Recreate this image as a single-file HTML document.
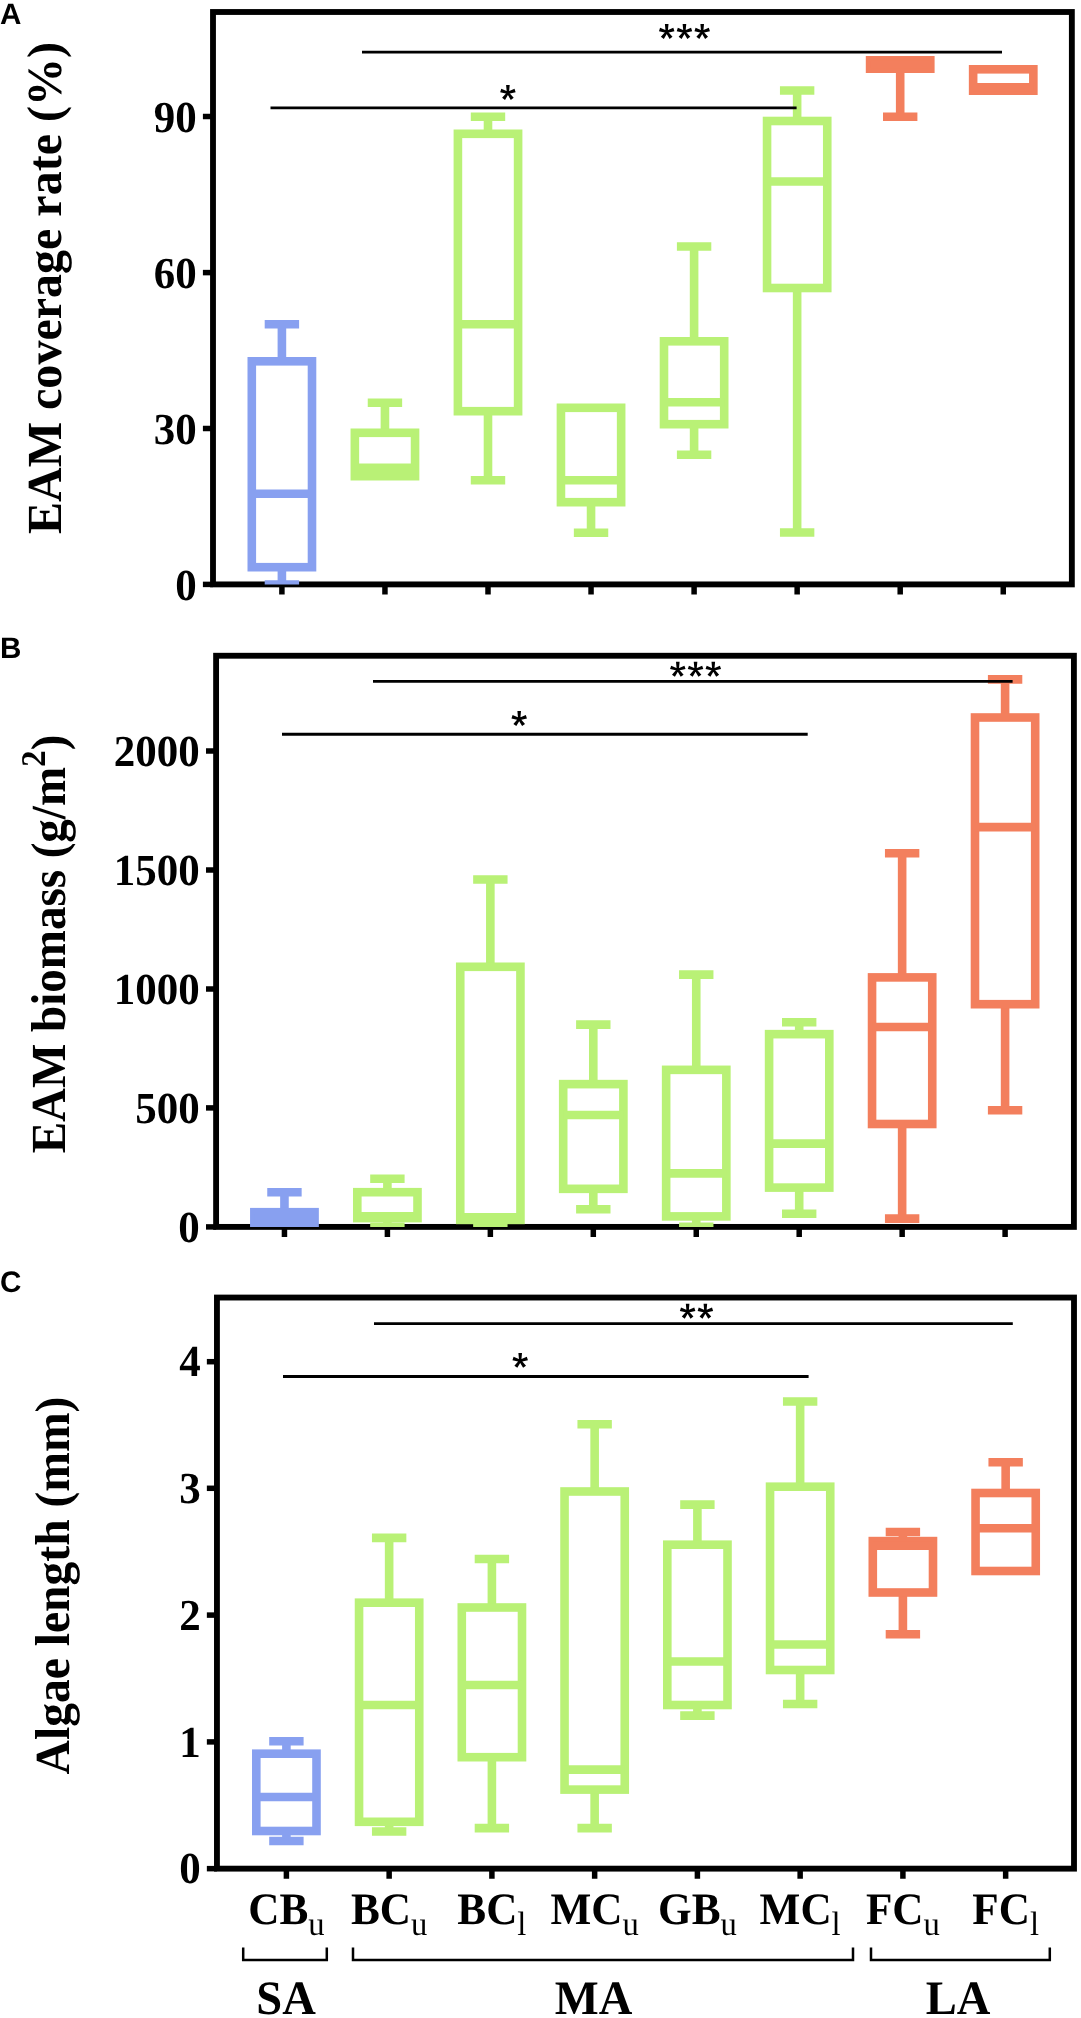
<!DOCTYPE html>
<html><head><meta charset="utf-8"><title>Figure</title>
<style>html,body{margin:0;padding:0;background:#fff}svg{display:block;will-change:transform}text{fill:#000;text-rendering:geometricPrecision}</style>
</head><body>
<svg width="1081" height="2018" viewBox="0 0 1081 2018">
<rect width="1081" height="2018" fill="#fff"/>
<!-- panel A -->
<clipPath id="clipA"><rect x="213" y="12" width="858.8499999999999" height="572.4"/></clipPath>
<rect x="213" y="12" width="858.8499999999999" height="572.4" fill="none" stroke="#000" stroke-width="5.85"/>
<path d="M202.9 116.5H213" stroke="#000" stroke-width="5.5"/>
<text transform="translate(196.70 132.30) scale(0.97 1)" text-anchor="end" font-family="Liberation Serif, serif" font-weight="bold" font-size="44.3">90</text>
<path d="M202.9 272.6H213" stroke="#000" stroke-width="5.5"/>
<text transform="translate(196.70 288.40) scale(0.97 1)" text-anchor="end" font-family="Liberation Serif, serif" font-weight="bold" font-size="44.3">60</text>
<path d="M202.9 428.5H213" stroke="#000" stroke-width="5.5"/>
<text transform="translate(196.70 444.30) scale(0.97 1)" text-anchor="end" font-family="Liberation Serif, serif" font-weight="bold" font-size="44.3">30</text>
<path d="M202.9 584.4H213" stroke="#000" stroke-width="5.5"/>
<text transform="translate(196.70 600.20) scale(0.97 1)" text-anchor="end" font-family="Liberation Serif, serif" font-weight="bold" font-size="44.3">0</text>
<path d="M281.90 584.4V594.5" stroke="#000" stroke-width="5.5"/>
<path d="M384.95 584.4V594.5" stroke="#000" stroke-width="5.5"/>
<path d="M488.00 584.4V594.5" stroke="#000" stroke-width="5.5"/>
<path d="M591.05 584.4V594.5" stroke="#000" stroke-width="5.5"/>
<path d="M694.10 584.4V594.5" stroke="#000" stroke-width="5.5"/>
<path d="M797.15 584.4V594.5" stroke="#000" stroke-width="5.5"/>
<path d="M900.20 584.4V594.5" stroke="#000" stroke-width="5.5"/>
<path d="M1003.25 584.4V594.5" stroke="#000" stroke-width="5.5"/>
<g stroke="#88A0F0" stroke-width="8.6" fill="none" clip-path="url(#clipA)">
<path d="M264.70 324.30H299.10M281.90 324.30V361.30"/>
<path d="M264.70 584.50H299.10M281.90 584.50V567.20"/>
<rect x="251.80" y="361.30" width="60.20" height="205.90"/>
<path d="M251.80 493.75H312.00"/>
</g>
<g stroke="#B9F176" stroke-width="8.6" fill="none" clip-path="url(#clipA)">
<path d="M367.75 402.75H402.15M384.95 402.75V432.80"/>
<rect x="354.85" y="432.80" width="60.20" height="43.40"/>
<path d="M354.85 467.80H415.05"/>
</g>
<g stroke="#B9F176" stroke-width="8.6" fill="none" clip-path="url(#clipA)">
<path d="M470.80 116.75H505.20M488.00 116.75V133.80"/>
<path d="M470.80 480.25H505.20M488.00 480.25V411.20"/>
<rect x="457.90" y="133.80" width="60.20" height="277.40"/>
<path d="M457.90 324.25H518.10"/>
</g>
<g stroke="#B9F176" stroke-width="8.6" fill="none" clip-path="url(#clipA)">
<path d="M573.85 532.75H608.25M591.05 532.75V502.20"/>
<rect x="560.95" y="407.80" width="60.20" height="94.40"/>
<path d="M560.95 480.25H621.15"/>
</g>
<g stroke="#B9F176" stroke-width="8.6" fill="none" clip-path="url(#clipA)">
<path d="M676.90 246.50H711.30M694.10 246.50V341.30"/>
<path d="M676.90 454.75H711.30M694.10 454.75V424.20"/>
<rect x="664.00" y="341.30" width="60.20" height="82.90"/>
<path d="M664.00 402.25H724.20"/>
</g>
<g stroke="#B9F176" stroke-width="8.6" fill="none" clip-path="url(#clipA)">
<path d="M779.95 90.50H814.35M797.15 90.50V121.00"/>
<path d="M779.95 532.50H814.35M797.15 532.50V288.00"/>
<rect x="767.05" y="121.00" width="60.20" height="167.00"/>
<path d="M767.05 181.50H827.25"/>
</g>
<g stroke="#F37F5D" stroke-width="8.6" fill="none" clip-path="url(#clipA)">
<path d="M883.00 116.75H917.40M900.20 116.75V68.70"/>
<rect x="870.10" y="60.30" width="60.20" height="8.40"/>
<path d="M870.10 64.50H930.30"/>
</g>
<g stroke="#F37F5D" stroke-width="8.6" fill="none" clip-path="url(#clipA)">
<rect x="973.15" y="69.30" width="60.20" height="21.40"/>
<path d="M973.15 87.20H1033.35"/>
</g>
<path d="M362 52.1H1002" stroke="#000" stroke-width="2.9"/>
<path d="M270.5 107.9H796.6" stroke="#000" stroke-width="2.9"/>
<path d="M667.85 31.30L668.50 24.00L664.90 24.00L665.55 31.30ZM667.63 32.81L674.44 31.28L673.32 27.86L666.92 30.62ZM666.12 33.06L669.59 38.94L672.51 36.83L667.98 31.71ZM665.42 31.71L660.89 36.83L663.81 38.94L667.28 33.06ZM666.48 30.62L660.08 27.86L658.96 31.28L665.77 32.81Z" fill="#000"/><circle cx="666.70" cy="31.90" r="1.7" fill="#000"/>
<path d="M685.60 31.30L686.25 24.00L682.65 24.00L683.30 31.30ZM685.38 32.81L692.19 31.28L691.07 27.86L684.67 30.62ZM683.87 33.06L687.34 38.94L690.26 36.83L685.73 31.71ZM683.17 31.71L678.64 36.83L681.56 38.94L685.03 33.06ZM684.23 30.62L677.83 27.86L676.71 31.28L683.52 32.81Z" fill="#000"/><circle cx="684.45" cy="31.90" r="1.7" fill="#000"/>
<path d="M703.35 31.30L704.00 24.00L700.40 24.00L701.05 31.30ZM703.13 32.81L709.94 31.28L708.82 27.86L702.42 30.62ZM701.62 33.06L705.09 38.94L708.01 36.83L703.48 31.71ZM700.92 31.71L696.39 36.83L699.31 38.94L702.78 33.06ZM701.98 30.62L695.58 27.86L694.46 31.28L701.27 32.81Z" fill="#000"/><circle cx="702.20" cy="31.90" r="1.7" fill="#000"/>
<path d="M509.05 92.30L509.70 85.00L506.10 85.00L506.75 92.30ZM508.83 93.81L515.64 92.28L514.52 88.86L508.12 91.62ZM507.32 94.06L510.79 99.94L513.71 97.83L509.18 92.71ZM506.62 92.71L502.09 97.83L505.01 99.94L508.48 94.06ZM507.68 91.62L501.28 88.86L500.16 92.28L506.97 93.81Z" fill="#000"/><circle cx="507.90" cy="92.90" r="1.7" fill="#000"/>
<text transform="translate(61 288) rotate(-90) scale(0.98 1)" text-anchor="middle" font-family="Liberation Serif, serif" font-weight="bold" font-size="49">EAM coverage rate (%)</text>
<text x="0" y="23.9" font-family="Liberation Sans, sans-serif" font-weight="bold" font-size="29.6">A</text>
<!-- panel B -->
<clipPath id="clipB"><rect x="216.1" y="655.75" width="857.8000000000001" height="571.1500000000001"/></clipPath>
<rect x="216.1" y="655.75" width="857.8000000000001" height="571.1500000000001" fill="none" stroke="#000" stroke-width="5.85"/>
<path d="M206.0 751H216.1" stroke="#000" stroke-width="5.5"/>
<text transform="translate(199.80 766.10) scale(0.97 1)" text-anchor="end" font-family="Liberation Serif, serif" font-weight="bold" font-size="44.3">2000</text>
<path d="M206.0 870H216.1" stroke="#000" stroke-width="5.5"/>
<text transform="translate(199.80 885.10) scale(0.97 1)" text-anchor="end" font-family="Liberation Serif, serif" font-weight="bold" font-size="44.3">1500</text>
<path d="M206.0 989H216.1" stroke="#000" stroke-width="5.5"/>
<text transform="translate(199.80 1004.10) scale(0.97 1)" text-anchor="end" font-family="Liberation Serif, serif" font-weight="bold" font-size="44.3">1000</text>
<path d="M206.0 1107.9H216.1" stroke="#000" stroke-width="5.5"/>
<text transform="translate(199.80 1123.00) scale(0.97 1)" text-anchor="end" font-family="Liberation Serif, serif" font-weight="bold" font-size="44.3">500</text>
<path d="M206.0 1226.9H216.1" stroke="#000" stroke-width="5.5"/>
<text transform="translate(199.80 1242.00) scale(0.97 1)" text-anchor="end" font-family="Liberation Serif, serif" font-weight="bold" font-size="44.3">0</text>
<path d="M284.45 1226.9V1237.0" stroke="#000" stroke-width="5.5"/>
<path d="M387.40 1226.9V1237.0" stroke="#000" stroke-width="5.5"/>
<path d="M490.35 1226.9V1237.0" stroke="#000" stroke-width="5.5"/>
<path d="M593.30 1226.9V1237.0" stroke="#000" stroke-width="5.5"/>
<path d="M696.25 1226.9V1237.0" stroke="#000" stroke-width="5.5"/>
<path d="M799.20 1226.9V1237.0" stroke="#000" stroke-width="5.5"/>
<path d="M902.15 1226.9V1237.0" stroke="#000" stroke-width="5.5"/>
<path d="M1005.10 1226.9V1237.0" stroke="#000" stroke-width="5.5"/>
<g stroke="#88A0F0" stroke-width="8.6" fill="none" clip-path="url(#clipB)">
<path d="M267.25 1192.20H301.65M284.45 1192.20V1212.20"/>
<rect x="254.35" y="1212.20" width="60.20" height="12.80"/>
<path d="M254.35 1219.00H314.55"/>
</g>
<g stroke="#B9F176" stroke-width="8.6" fill="none" clip-path="url(#clipB)">
<path d="M370.20 1178.70H404.60M387.40 1178.70V1192.20"/>
<path d="M370.20 1226.90H404.60M387.40 1226.90V1218.10"/>
<rect x="357.30" y="1192.20" width="60.20" height="25.90"/>
<path d="M357.30 1216.20H417.50"/>
</g>
<g stroke="#B9F176" stroke-width="8.6" fill="none" clip-path="url(#clipB)">
<path d="M473.15 879.49H507.55M490.35 879.49V966.80"/>
<path d="M473.15 1226.90H507.55M490.35 1226.90V1219.90"/>
<rect x="460.25" y="966.80" width="60.20" height="253.10"/>
<path d="M460.25 1217.30H520.45"/>
</g>
<g stroke="#B9F176" stroke-width="8.6" fill="none" clip-path="url(#clipB)">
<path d="M576.10 1024.64H610.50M593.30 1024.64V1084.13"/>
<path d="M576.10 1209.20H610.50M593.30 1209.20V1188.83"/>
<rect x="563.20" y="1084.13" width="60.20" height="104.70"/>
<path d="M563.20 1115.06H623.40"/>
</g>
<g stroke="#B9F176" stroke-width="8.6" fill="none" clip-path="url(#clipB)">
<path d="M679.05 974.67H713.45M696.25 974.67V1069.85"/>
<path d="M679.05 1226.90H713.45M696.25 1226.90V1216.40"/>
<rect x="666.15" y="1069.85" width="60.20" height="146.55"/>
<path d="M666.15 1173.36H726.35"/>
</g>
<g stroke="#B9F176" stroke-width="8.6" fill="none" clip-path="url(#clipB)">
<path d="M782.00 1022.26H816.40M799.20 1022.26V1034.16"/>
<path d="M782.00 1213.80H816.40M799.20 1213.80V1187.60"/>
<rect x="769.10" y="1034.16" width="60.20" height="153.44"/>
<path d="M769.10 1143.62H829.30"/>
</g>
<g stroke="#F37F5D" stroke-width="8.6" fill="none" clip-path="url(#clipB)">
<path d="M884.95 853.32H919.35M902.15 853.32V977.40"/>
<path d="M884.95 1218.60H919.35M902.15 1218.60V1124.00"/>
<rect x="872.05" y="977.40" width="60.20" height="146.60"/>
<path d="M872.05 1027.02H932.25"/>
</g>
<g stroke="#F37F5D" stroke-width="8.6" fill="none" clip-path="url(#clipB)">
<path d="M987.90 679.40H1022.30M1005.10 679.40V717.50"/>
<path d="M987.90 1110.30H1022.30M1005.10 1110.30V1004.20"/>
<rect x="975.00" y="717.50" width="60.20" height="286.70"/>
<path d="M975.00 827.14H1035.20"/>
</g>
<path d="M373 681.4H1012.6" stroke="#000" stroke-width="2.9"/>
<path d="M282 734.3H807.7" stroke="#000" stroke-width="2.9"/>
<path d="M678.95 669.10L679.60 661.80L676.00 661.80L676.65 669.10ZM678.73 670.61L685.54 669.08L684.42 665.66L678.02 668.42ZM677.22 670.86L680.69 676.74L683.61 674.63L679.08 669.51ZM676.52 669.51L671.99 674.63L674.91 676.74L678.38 670.86ZM677.58 668.42L671.18 665.66L670.06 669.08L676.87 670.61Z" fill="#000"/><circle cx="677.80" cy="669.70" r="1.7" fill="#000"/>
<path d="M696.70 669.10L697.35 661.80L693.75 661.80L694.40 669.10ZM696.48 670.61L703.29 669.08L702.17 665.66L695.77 668.42ZM694.97 670.86L698.44 676.74L701.36 674.63L696.83 669.51ZM694.27 669.51L689.74 674.63L692.66 676.74L696.13 670.86ZM695.33 668.42L688.93 665.66L687.81 669.08L694.62 670.61Z" fill="#000"/><circle cx="695.55" cy="669.70" r="1.7" fill="#000"/>
<path d="M714.45 669.10L715.10 661.80L711.50 661.80L712.15 669.10ZM714.23 670.61L721.04 669.08L719.92 665.66L713.52 668.42ZM712.72 670.86L716.19 676.74L719.11 674.63L714.58 669.51ZM712.02 669.51L707.49 674.63L710.41 676.74L713.88 670.86ZM713.08 668.42L706.68 665.66L705.56 669.08L712.37 670.61Z" fill="#000"/><circle cx="713.30" cy="669.70" r="1.7" fill="#000"/>
<path d="M520.35 718.40L521.00 711.10L517.40 711.10L518.05 718.40ZM520.13 719.91L526.94 718.38L525.82 714.96L519.42 717.72ZM518.62 720.16L522.09 726.04L525.01 723.93L520.48 718.81ZM517.92 718.81L513.39 723.93L516.31 726.04L519.78 720.16ZM518.98 717.72L512.58 714.96L511.46 718.38L518.27 719.91Z" fill="#000"/><circle cx="519.20" cy="719.00" r="1.7" fill="#000"/>
<text transform="translate(65 944) rotate(-90) scale(0.959 1)" text-anchor="middle" font-family="Liberation Serif, serif" font-weight="bold" font-size="49">EAM biomass (g/m<tspan dy="-19.8" font-size="34.6">2</tspan><tspan dy="19.8">)</tspan></text>
<text x="0" y="657.9" font-family="Liberation Sans, sans-serif" font-weight="bold" font-size="29.6">B</text>
<!-- panel C -->
<clipPath id="clipC"><rect x="216.95" y="1297.55" width="857.05" height="571.1000000000001"/></clipPath>
<rect x="216.95" y="1297.55" width="857.05" height="571.1000000000001" fill="none" stroke="#000" stroke-width="5.85"/>
<path d="M206.85 1361.7H216.95" stroke="#000" stroke-width="5.5"/>
<text transform="translate(200.65 1376.30) scale(0.97 1)" text-anchor="end" font-family="Liberation Serif, serif" font-weight="bold" font-size="44.3">4</text>
<path d="M206.85 1488.3H216.95" stroke="#000" stroke-width="5.5"/>
<text transform="translate(200.65 1502.90) scale(0.97 1)" text-anchor="end" font-family="Liberation Serif, serif" font-weight="bold" font-size="44.3">3</text>
<path d="M206.85 1615.1H216.95" stroke="#000" stroke-width="5.5"/>
<text transform="translate(200.65 1629.70) scale(0.97 1)" text-anchor="end" font-family="Liberation Serif, serif" font-weight="bold" font-size="44.3">2</text>
<path d="M206.85 1741.9H216.95" stroke="#000" stroke-width="5.5"/>
<text transform="translate(200.65 1756.50) scale(0.97 1)" text-anchor="end" font-family="Liberation Serif, serif" font-weight="bold" font-size="44.3">1</text>
<path d="M206.85 1868.65H216.95" stroke="#000" stroke-width="5.5"/>
<text transform="translate(200.65 1883.25) scale(0.97 1)" text-anchor="end" font-family="Liberation Serif, serif" font-weight="bold" font-size="44.3">0</text>
<path d="M286.40 1868.65V1878.75" stroke="#000" stroke-width="5.5"/>
<path d="M389.15 1868.65V1878.75" stroke="#000" stroke-width="5.5"/>
<path d="M491.90 1868.65V1878.75" stroke="#000" stroke-width="5.5"/>
<path d="M594.65 1868.65V1878.75" stroke="#000" stroke-width="5.5"/>
<path d="M697.40 1868.65V1878.75" stroke="#000" stroke-width="5.5"/>
<path d="M800.15 1868.65V1878.75" stroke="#000" stroke-width="5.5"/>
<path d="M902.90 1868.65V1878.75" stroke="#000" stroke-width="5.5"/>
<path d="M1005.65 1868.65V1878.75" stroke="#000" stroke-width="5.5"/>
<g stroke="#88A0F0" stroke-width="8.6" fill="none" clip-path="url(#clipC)">
<path d="M269.20 1741.30H303.60M286.40 1741.30V1753.70"/>
<path d="M269.20 1841.00H303.60M286.40 1841.00V1831.00"/>
<rect x="256.30" y="1753.70" width="60.20" height="77.30"/>
<path d="M256.30 1797.00H316.50"/>
</g>
<g stroke="#B9F176" stroke-width="8.6" fill="none" clip-path="url(#clipC)">
<path d="M371.95 1537.90H406.35M389.15 1537.90V1602.70"/>
<path d="M371.95 1831.50H406.35M389.15 1831.50V1821.80"/>
<rect x="359.05" y="1602.70" width="60.20" height="219.10"/>
<path d="M359.05 1705.00H419.25"/>
</g>
<g stroke="#B9F176" stroke-width="8.6" fill="none" clip-path="url(#clipC)">
<path d="M474.70 1559.00H509.10M491.90 1559.00V1607.50"/>
<path d="M474.70 1828.10H509.10M491.90 1828.10V1757.20"/>
<rect x="461.80" y="1607.50" width="60.20" height="149.70"/>
<path d="M461.80 1685.00H522.00"/>
</g>
<g stroke="#B9F176" stroke-width="8.6" fill="none" clip-path="url(#clipC)">
<path d="M577.45 1424.30H611.85M594.65 1424.30V1491.50"/>
<path d="M577.45 1828.10H611.85M594.65 1828.10V1789.60"/>
<rect x="564.55" y="1491.50" width="60.20" height="298.10"/>
<path d="M564.55 1769.60H624.75"/>
</g>
<g stroke="#B9F176" stroke-width="8.6" fill="none" clip-path="url(#clipC)">
<path d="M680.20 1504.60H714.60M697.40 1504.60V1544.70"/>
<path d="M680.20 1715.60H714.60M697.40 1715.60V1705.00"/>
<rect x="667.30" y="1544.70" width="60.20" height="160.30"/>
<path d="M667.30 1661.50H727.50"/>
</g>
<g stroke="#B9F176" stroke-width="8.6" fill="none" clip-path="url(#clipC)">
<path d="M782.95 1401.50H817.35M800.15 1401.50V1486.70"/>
<path d="M782.95 1704.00H817.35M800.15 1704.00V1670.00"/>
<rect x="770.05" y="1486.70" width="60.20" height="183.30"/>
<path d="M770.05 1644.50H830.25"/>
</g>
<g stroke="#F37F5D" stroke-width="8.6" fill="none" clip-path="url(#clipC)">
<path d="M885.70 1532.00H920.10M902.90 1532.00V1541.10"/>
<path d="M885.70 1634.30H920.10M902.90 1634.30V1592.50"/>
<rect x="872.80" y="1541.10" width="60.20" height="51.40"/>
<path d="M872.80 1545.70H933.00"/>
</g>
<g stroke="#F37F5D" stroke-width="8.6" fill="none" clip-path="url(#clipC)">
<path d="M988.45 1462.30H1022.85M1005.65 1462.30V1493.00"/>
<rect x="975.55" y="1493.00" width="60.20" height="78.00"/>
<path d="M975.55 1528.20H1035.75"/>
</g>
<path d="M374 1323.6H1012.8" stroke="#000" stroke-width="2.9"/>
<path d="M283 1376.5H808.6" stroke="#000" stroke-width="2.9"/>
<path d="M688.77 1311.05L689.42 1303.75L685.83 1303.75L686.48 1311.05ZM688.55 1312.56L695.36 1311.03L694.25 1307.61L687.84 1310.37ZM687.05 1312.81L690.52 1318.69L693.43 1316.58L688.91 1311.46ZM686.34 1311.46L681.82 1316.58L684.73 1318.69L688.20 1312.81ZM687.41 1310.37L681.00 1307.61L679.89 1311.03L686.70 1312.56Z" fill="#000"/><circle cx="687.62" cy="1311.65" r="1.7" fill="#000"/>
<path d="M706.52 1311.05L707.17 1303.75L703.58 1303.75L704.23 1311.05ZM706.30 1312.56L713.11 1311.03L712.00 1307.61L705.59 1310.37ZM704.80 1312.81L708.27 1318.69L711.18 1316.58L706.66 1311.46ZM704.09 1311.46L699.57 1316.58L702.48 1318.69L705.95 1312.81ZM705.16 1310.37L698.75 1307.61L697.64 1311.03L704.45 1312.56Z" fill="#000"/><circle cx="705.38" cy="1311.65" r="1.7" fill="#000"/>
<path d="M521.35 1360.20L522.00 1352.90L518.40 1352.90L519.05 1360.20ZM521.13 1361.71L527.94 1360.18L526.82 1356.76L520.42 1359.52ZM519.62 1361.96L523.09 1367.84L526.01 1365.73L521.48 1360.61ZM518.92 1360.61L514.39 1365.73L517.31 1367.84L520.78 1361.96ZM519.98 1359.52L513.58 1356.76L512.46 1360.18L519.27 1361.71Z" fill="#000"/><circle cx="520.20" cy="1360.80" r="1.7" fill="#000"/>
<text transform="translate(68.7 1585.5) rotate(-90) scale(0.971 1)" text-anchor="middle" font-family="Liberation Serif, serif" font-weight="bold" font-size="49">Algae length (mm)</text>
<text x="0" y="1292.3" font-family="Liberation Sans, sans-serif" font-weight="bold" font-size="29.6">C</text>
<text transform="translate(286.40 1923.8) scale(0.96 1)" text-anchor="middle" font-family="Liberation Serif, serif" font-weight="bold" font-size="45">CB<tspan dy="10.7" font-weight="normal" font-size="34">u</tspan></text>
<text transform="translate(389.15 1923.8) scale(0.96 1)" text-anchor="middle" font-family="Liberation Serif, serif" font-weight="bold" font-size="45">BC<tspan dy="10.7" font-weight="normal" font-size="34">u</tspan></text>
<text transform="translate(491.90 1923.8) scale(0.96 1)" text-anchor="middle" font-family="Liberation Serif, serif" font-weight="bold" font-size="45">BC<tspan dy="10.7" font-weight="normal" font-size="34">l</tspan></text>
<text transform="translate(594.65 1923.8) scale(0.96 1)" text-anchor="middle" font-family="Liberation Serif, serif" font-weight="bold" font-size="45">MC<tspan dy="10.7" font-weight="normal" font-size="34">u</tspan></text>
<text transform="translate(697.40 1923.8) scale(0.96 1)" text-anchor="middle" font-family="Liberation Serif, serif" font-weight="bold" font-size="45">GB<tspan dy="10.7" font-weight="normal" font-size="34">u</tspan></text>
<text transform="translate(800.15 1923.8) scale(0.96 1)" text-anchor="middle" font-family="Liberation Serif, serif" font-weight="bold" font-size="45">MC<tspan dy="10.7" font-weight="normal" font-size="34">l</tspan></text>
<text transform="translate(902.90 1923.8) scale(0.96 1)" text-anchor="middle" font-family="Liberation Serif, serif" font-weight="bold" font-size="45">FC<tspan dy="10.7" font-weight="normal" font-size="34">u</tspan></text>
<text transform="translate(1005.65 1923.8) scale(0.96 1)" text-anchor="middle" font-family="Liberation Serif, serif" font-weight="bold" font-size="45">FC<tspan dy="10.7" font-weight="normal" font-size="34">l</tspan></text>
<path d="M243.2 1947.5V1960H326.8V1947.5" fill="none" stroke="#000" stroke-width="2.5"/>
<path d="M353 1947.5V1960H853V1947.5" fill="none" stroke="#000" stroke-width="2.5"/>
<path d="M871 1947.5V1960H1049.8V1947.5" fill="none" stroke="#000" stroke-width="2.5"/>
<text transform="translate(286 2013.8) scale(0.97 1)" text-anchor="middle" font-family="Liberation Serif, serif" font-weight="bold" font-size="48">SA</text>
<text transform="translate(593.5 2013.8) scale(0.97 1)" text-anchor="middle" font-family="Liberation Serif, serif" font-weight="bold" font-size="48">MA</text>
<text transform="translate(958 2013.8) scale(0.97 1)" text-anchor="middle" font-family="Liberation Serif, serif" font-weight="bold" font-size="48">LA</text>
</svg></body></html>
